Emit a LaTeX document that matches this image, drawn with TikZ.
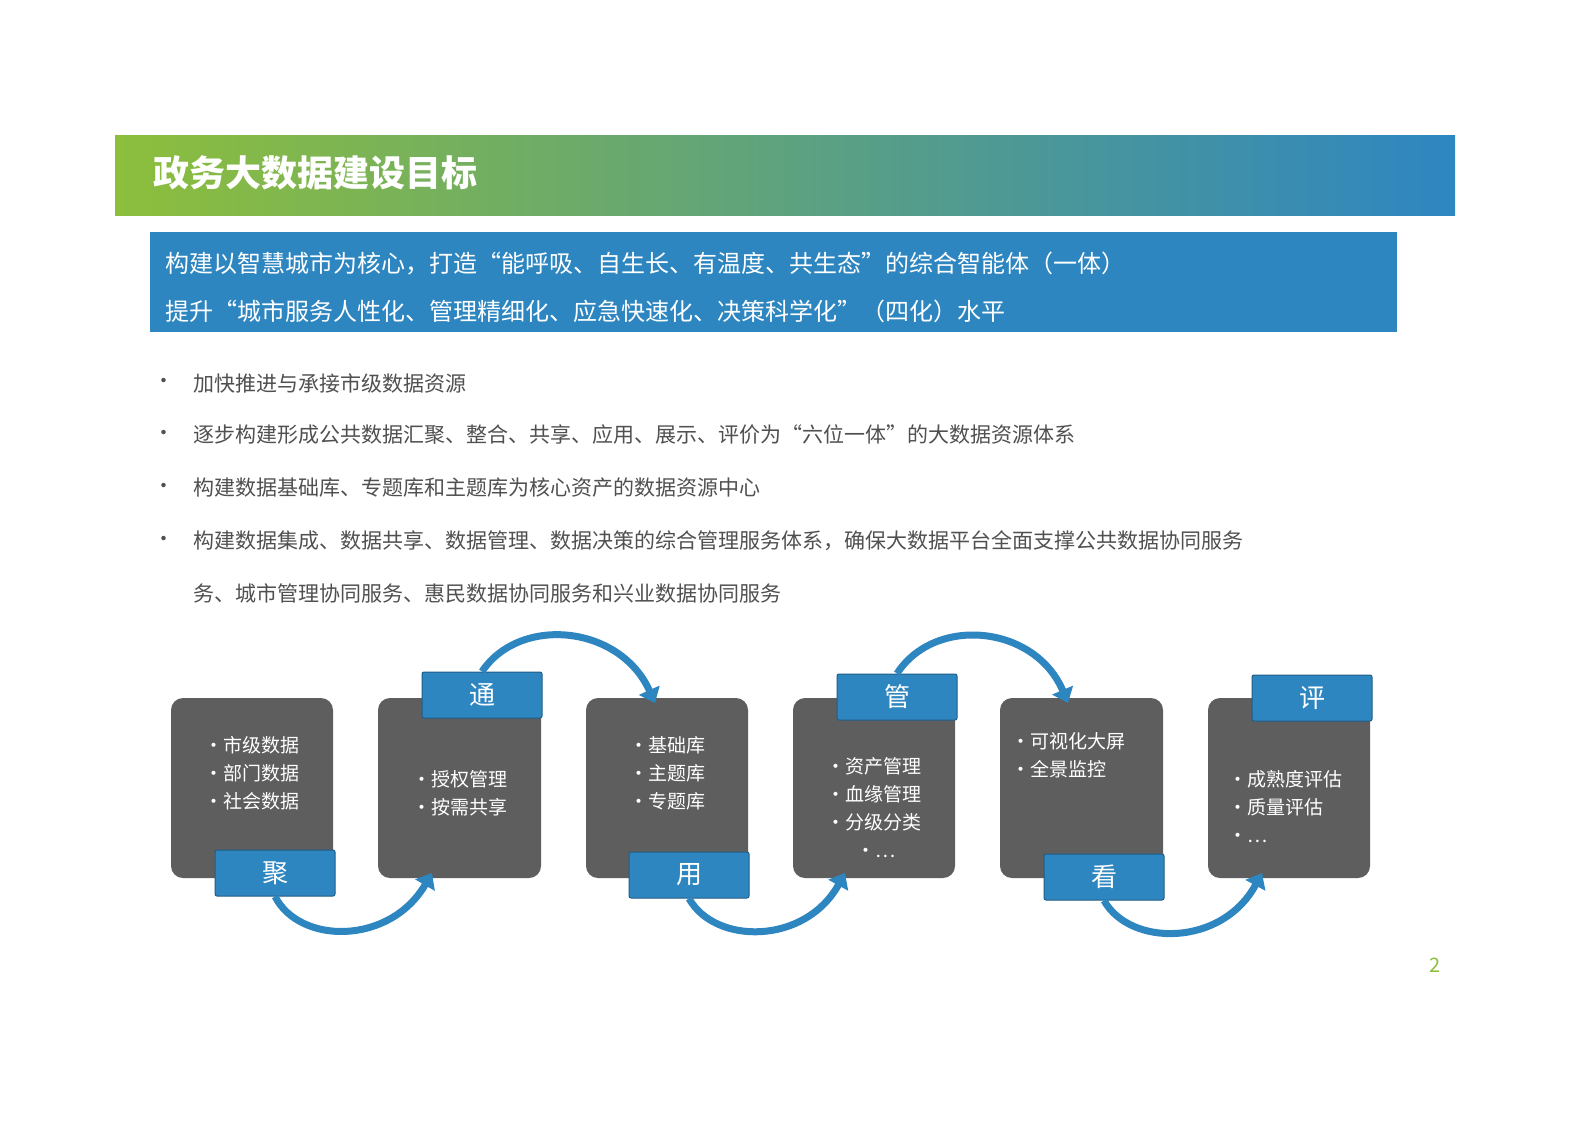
\documentclass[tikz,border=0pt]{standalone}
\usepackage{fontspec}
\setmainfont{Noto Sans CJK SC}
\usetikzlibrary{arrows.meta,shadings}
\definecolor{tblue}{HTML}{2E86C1}
\definecolor{tgreen}{HTML}{8DBE3C}
\definecolor{bgray}{HTML}{5E5E5E}
\definecolor{tgray}{HTML}{505050}
\tikzset{
 gbox/.style={fill=bgray,rounded corners=12pt,draw=none},
 lbl/.style={fill=tblue,draw=tblue!70!black,line width=1pt,rounded corners=2pt,minimum width=120pt,minimum height=46pt,text=white,font=\fontsize{26}{28}\selectfont,inner sep=0pt},
 itm/.style={text=white,font=\fontsize{19}{22}\selectfont,align=left},
 arc/.style={draw=tblue,line width=7pt,-{Triangle[length=14pt,width=22pt]}},
 blt/.style={text=tgray,font=\fontsize{21}{24}\selectfont,anchor=west}
}
\begin{document}
\begin{tikzpicture}[x=1pt,y=-1pt]
\useasboundingbox (0,0) rectangle (1587,1122);
\fill[white] (0,0) rectangle (1587,1122);
\shade[left color=tgreen,right color=tblue,middle color=tblue!50!tgreen] (115,135) rectangle (1455,215);
\node[anchor=west,text=white,font=\fontsize{36}{40}\selectfont\bfseries] (title) at (150,173) {政务大数据建设目标};
\fill[tblue] (150,232) rectangle (1397,332);
\node[anchor=west,text=white,font=\fontsize{24}{28}\selectfont] (l1) at (162,264) {构建以智慧城市为核心，打造“能呼吸、自生长、有温度、共生态”的综合智能体（一体）};
\node[anchor=west,text=white,font=\fontsize{24}{28}\selectfont] (l2) at (162,311) {提升“城市服务人性化、管理精细化、应急快速化、决策科学化”（四化）水平};
\foreach \y/\t in {383/加快推进与承接市级数据资源,435/逐步构建形成公共数据汇聚、整合、共享、应用、展示、评价为“六位一体”的大数据资源体系,488/构建数据基础库、专题库和主题库为核心资产的数据资源中心,541/构建数据集成、数据共享、数据管理、数据决策的综合管理服务体系，确保大数据平台全面支撑公共数据协同服务}{
 \node[blt] at (150,\y) {•};
 \node[blt] at (190,\y) {\t};
}
\node[blt] (b5) at (190,593) {务、城市管理协同服务、惠民数据协同服务和兴业数据协同服务};
% boxes
\fill[gbox] (171,698) rectangle (333,878);
\fill[gbox] (378,698) rectangle (541,878);
\fill[gbox] (586,698) rectangle (748,878);
\fill[gbox] (793,698) rectangle (955,878);
\fill[gbox] (1000,698) rectangle (1163,878);
\fill[gbox] (1208,698) rectangle (1370,878);
\node[itm] (t1) at (252,773) {•市级数据\\[6pt]•部门数据\\[6pt]•社会数据};
\node[itm] (t2) at (460,793) {•授权管理\\[6pt]•按需共享};
\node[itm] (t3) at (667,773) {•基础库\\[6pt]•主题库\\[6pt]•专题库};
\node[itm] (t4) at (874,808) {•资产管理\\[6pt]•血缘管理\\[6pt]•分级分类\\[6pt]\hspace*{30pt}•…};
\node[itm] (t5) at (1068,755) {•可视化大屏\\[6pt]•全景监控};
\node[itm] (t6) at (1285,807) {•成熟度评估\\[6pt]•质量评估\\[6pt]•…};
\node[lbl] (a) at (275,873) {聚};
\node[lbl] (b) at (482,695) {通};
\node[lbl] (c) at (689,875) {用};
\node[lbl] (d) at (897,697) {管};
\node[lbl] (e) at (1104,877) {看};
\node[lbl] (f) at (1312,698) {评};
\coordinate (a2) at (432,873);
\coordinate (b2) at (655,703);
\coordinate (c2) at (845,873);
\coordinate (d2) at (1068,703);
\coordinate (e2) at (1262,873);
\draw[arc] ([xshift=0pt]a.south) .. controls (300,945) and (390,945) .. (a2);
\draw[arc] (b.north) .. controls (520,615) and (620,625) .. (b2);
\draw[arc] (c.south) .. controls (715,945) and (805,945) .. (c2);
\draw[arc] (d.north) .. controls (935,615) and (1035,625) .. (d2);
\draw[arc] (e.south) .. controls (1130,947) and (1222,947) .. (e2);
\node[text=tgreen,font=\fontsize{20}{22}\selectfont] (pg) at (1435,965) {2};
\end{tikzpicture}
\end{document}
